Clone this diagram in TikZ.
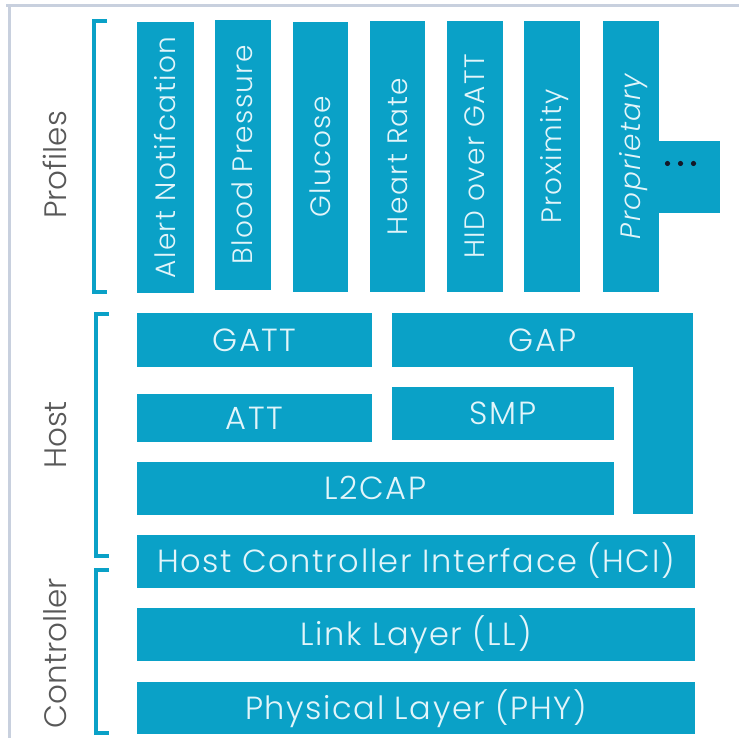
\documentclass[tikz,border=0pt]{standalone}
\usepackage{fontspec}
\setmainfont{Poppins}[UprightFont=* Light, ItalicFont=* Light Italic]
\newfontfamily\layerfont{Poppins}[UprightFont=* Light, ItalicFont=* Light Italic, LetterSpace=5]
\definecolor{bleblue}{RGB}{10,161,199}
\definecolor{boxtext}{RGB}{226,245,250}
\definecolor{sidegray}{RGB}{88,88,88}
\definecolor{framegray}{RGB}{200,208,222}
\definecolor{dotdark}{RGB}{20,24,40}
\begin{document}
\begin{tikzpicture}[x=1pt,y=-1pt,
  layer/.style={fill=bleblue, inner sep=0pt, outer sep=0pt, text=boxtext,
    font=\layerfont\fontsize{32}{32}\selectfont, text height=22.5pt, text depth=0pt},
  profile/.style={layer, rotate=90, minimum width=270pt, minimum height=56pt,
    font=\layerfont\fontsize{28}{28}\selectfont, text height=19.6pt},
  bracket/.style={draw=bleblue, line width=4.5pt, line join=miter},
  side/.style={text=sidegray, rotate=90, inner sep=0pt,
    font=\fontsize{31}{31}\selectfont, text height=21.7pt, text depth=0pt}]
\useasboundingbox (0,0) rectangle (739,738);
\fill[white] (0,0) rectangle (739,738);

% page frame
\draw[framegray, line width=3pt] (6,5.5) -- (739,5.5);
\draw[framegray, line width=3pt] (9,5.5) -- (9,738);

% profiles
\node[profile, minimum height=57pt] (alert) at (165.5,157.5) {Alert Notifcation};
\node[profile] (blood) at (243,155) {Blood Pressure};
\node[profile, minimum height=55pt] (glucose) at (320.5,157) {Glucose};
\node[profile, minimum height=55pt] (heart) at (397.5,156.5) {Heart Rate};
\node[profile] (hid) at (475,156.5) {HID over GATT};
\node[profile] (prox) at (552,156.5) {Proximity};
\node[profile] (prop) at (631,156.5) {\itshape Proprietary};
\node[layer, minimum width=61pt, minimum height=72pt] (more) at (689.5,177) {};
\foreach \dx in {-22,-9,4}
  \fill[dotdark] ([xshift=\dx pt, yshift=13.5pt]more.center) circle (2.6pt);

% host
\node[layer, minimum width=235pt, minimum height=54pt] (gatt) at (254.5,340) {GATT};
\node[layer, minimum width=301pt, minimum height=54pt] (gap) at (542.5,340) {GAP};
\fill[bleblue] (gap.south east) rectangle ([xshift=-60pt, yshift=-147pt]gap.south east);
\node[layer, minimum width=235pt, minimum height=48pt] (att) at (254.5,418) {ATT};
\node[layer, minimum width=222pt, minimum height=53pt] (smp) at (503,413.5) {SMP};
\node[layer, minimum width=477pt, minimum height=53pt] (l2cap) at (375.5,488.5) {L2CAP};

% controller
\node[layer, minimum width=558pt, minimum height=53pt] (hci) at (416,561.5) {Host Controller Interface (HCI)};
\node[layer, minimum width=558pt, minimum height=53pt] (ll) at (416,634.5) {Link Layer (LL)};
\node[layer, minimum width=558pt, minimum height=52pt] (phy) at (416,708) {Physical Layer (PHY)};

% brackets and side labels
\draw[bracket] (107,21) -- (94,21) -- (94,292) -- (107,292);
\draw[bracket] (109,314) -- (96,314) -- (96,556) -- (109,556);
\draw[bracket] (109,570) -- (96,570) -- (96,733) -- (109,733);
\node[side] (lprofiles) at (56,165) {Profiles};
\node[side] (lhost) at (56,435) {Host};
\node[side] (lcontroller) at (56,653) {Controller};
\end{tikzpicture}
\end{document}
